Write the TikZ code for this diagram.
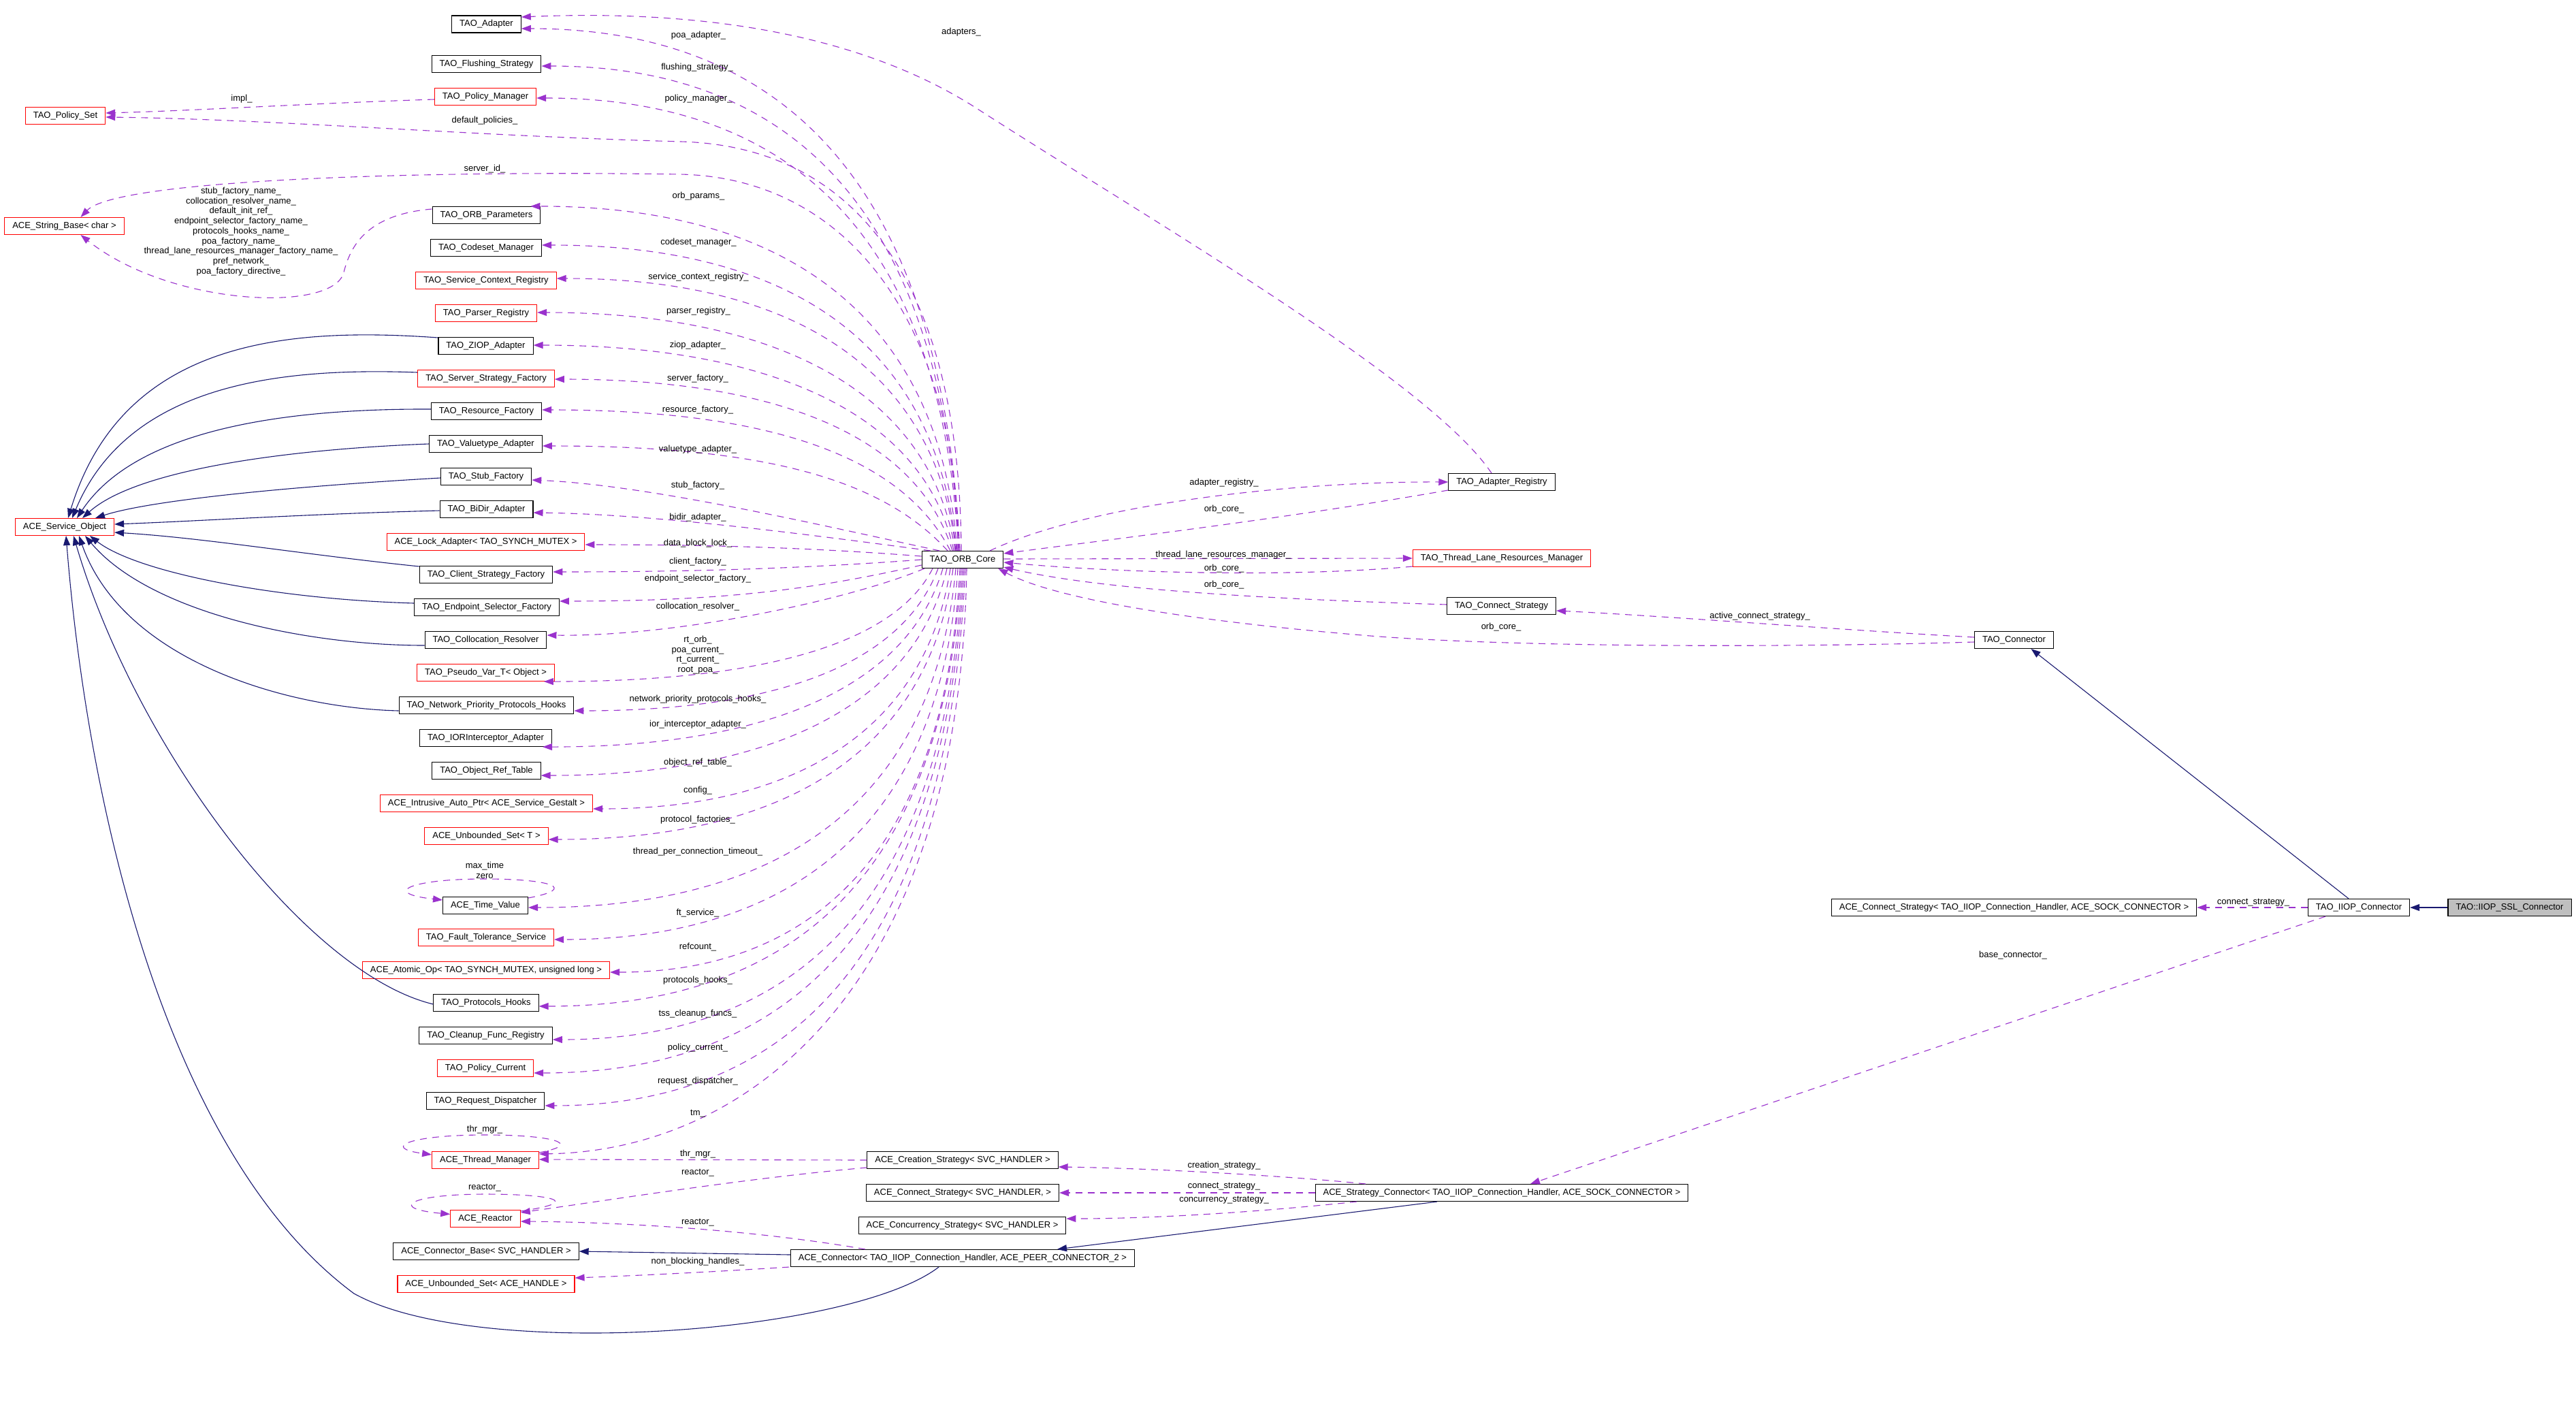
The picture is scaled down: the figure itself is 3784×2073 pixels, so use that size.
\documentclass[tikz,border=0pt]{standalone}
\usepackage{fontspec}
\setmainfont{Liberation Sans}
\usetikzlibrary{arrows.meta,calc}
\definecolor{pur}{HTML}{9A32CD}
\definecolor{nav}{HTML}{191970}
\definecolor{gry}{HTML}{BFBFBF}
\tikzset{
 cls/.style={draw=black, fill=white, line width=1.1pt, minimum height=25pt, inner xsep=11.5pt, inner ysep=0pt, font=\fontsize{13pt}{14.7pt}\selectfont},
 inc/.style={cls, draw=red},
 lbl/.style={inner sep=0pt, align=center, font=\fontsize{13pt}{14.7pt}\selectfont},
 uses/.style={draw=pur, line width=1.1pt, dash pattern=on 10pt off 8pt, -{Triangle[length=14pt,width=10pt]}},
 isa/.style={draw=nav, line width=1.1pt, -{Triangle[length=14pt,width=10pt]}},
}
% #1 source, #2 target, #3 fraction of dx for first control, #4 fraction of dx for second control
\newcommand{\oc}[4]{\draw[uses] let \p1=(#1), \p2=(#2) in (\p1) .. controls ({\x1+#3*(\x2-\x1)},{\y1+0.68*(\y2-\y1)}) and ({\x2+#4*(\x1-\x2)},\y2) .. (\p2);}
\begin{document}
\begin{tikzpicture}[x=1pt,y=-1pt]
\useasboundingbox (0,0) rectangle (3784,2073);
\fill[white] (0,0) rectangle (3784,2073);
% left column
\node[cls] (adapter) at (714.5,35.5) {TAO\_Adapter};
\node[cls] (flush) at (714.5,94) {TAO\_Flushing\_Strategy};
\node[inc] (polmgr) at (713,142) {TAO\_Policy\_Manager};
\node[inc] (polset) at (96,170) {TAO\_Policy\_Set};
\node[inc] (strbase) at (94.5,332) {ACE\_String\_Base< char >};
\node[cls] (orbparams) at (714.5,316) {TAO\_ORB\_Parameters};
\node[cls] (codeset) at (714,364) {TAO\_Codeset\_Manager};
\node[inc] (svcctx) at (714,412) {TAO\_Service\_Context\_Registry};
\node[inc] (parser) at (714,460) {TAO\_Parser\_Registry};
\node[cls] (ziop) at (713.5,508) {TAO\_ZIOP\_Adapter};
\node[inc] (srvstrat) at (714,556) {TAO\_Server\_Strategy\_Factory};
\node[cls] (resfac) at (714.5,604) {TAO\_Resource\_Factory};
\node[cls] (valtype) at (713.5,652) {TAO\_Valuetype\_Adapter};
\node[cls] (stubfac) at (714,700) {TAO\_Stub\_Factory};
\node[cls] (bidir) at (714.5,748) {TAO\_BiDir\_Adapter};
\node[inc] (svcobj) at (95,774) {ACE\_Service\_Object};
\node[inc] (lockad) at (713.5,796) {ACE\_Lock\_Adapter< TAO\_SYNCH\_MUTEX >};
\node[cls] (cltstrat) at (714,844) {TAO\_Client\_Strategy\_Factory};
\node[cls] (endpt) at (715,892) {TAO\_Endpoint\_Selector\_Factory};
\node[cls] (colloc) at (713.5,940) {TAO\_Collocation\_Resolver};
\node[inc] (pseudo) at (713.5,988) {TAO\_Pseudo\_Var\_T< Object >};
\node[cls] (netprio) at (714.5,1036) {TAO\_Network\_Priority\_Protocols\_Hooks};
\node[cls] (ior) at (713.5,1084) {TAO\_IORInterceptor\_Adapter};
\node[cls] (objref) at (714.5,1132) {TAO\_Object\_Ref\_Table};
\node[inc] (intrus) at (714.5,1180) {ACE\_Intrusive\_Auto\_Ptr< ACE\_Service\_Gestalt >};
\node[inc] (unbT) at (714.5,1228) {ACE\_Unbounded\_Set< T >};
\node[cls] (timeval) at (713,1330) {ACE\_Time\_Value};
\node[inc] (fault) at (714,1377) {TAO\_Fault\_Tolerance\_Service};
\node[inc] (atomic) at (714,1425) {ACE\_Atomic\_Op< TAO\_SYNCH\_MUTEX, unsigned long >};
\node[cls] (prothk) at (714,1473) {TAO\_Protocols\_Hooks};
\node[cls] (cleanup) at (713.5,1521) {TAO\_Cleanup\_Func\_Registry};
\node[inc] (polcur) at (713,1569) {TAO\_Policy\_Current};
\node[cls] (reqdisp) at (713,1617) {TAO\_Request\_Dispatcher};
\node[inc] (thrmgr) at (713,1704) {ACE\_Thread\_Manager};
\node[inc] (reactor) at (713,1790) {ACE\_Reactor};
\node[cls] (connbase) at (714,1838) {ACE\_Connector\_Base< SVC\_HANDLER >};
\node[inc] (unbhdl) at (714,1886) {ACE\_Unbounded\_Set< ACE\_HANDLE >};
% middle and right
\node[cls] (orb) at (1414,822) {TAO\_ORB\_Core};
\node[cls] (adreg) at (2206,708) {TAO\_Adapter\_Registry};
\node[inc] (tlrm) at (2206,820) {TAO\_Thread\_Lane\_Resources\_Manager};
\node[cls] (cstrat) at (2205.5,890) {TAO\_Connect\_Strategy};
\node[cls] (tconn) at (2958.5,940) {TAO\_Connector};
\node[cls] (acestratiiop) at (2958.5,1333) {ACE\_Connect\_Strategy< TAO\_IIOP\_Connection\_Handler, ACE\_SOCK\_CONNECTOR >};
\node[cls] (iiop) at (3465,1333) {TAO\_IIOP\_Connector};
\node[cls, fill=gry] (ssl) at (3686.5,1333) {TAO::IIOP\_SSL\_Connector};
\node[cls] (stratconn) at (2206,1752) {ACE\_Strategy\_Connector< TAO\_IIOP\_Connection\_Handler, ACE\_SOCK\_CONNECTOR >};
\node[cls] (creat) at (1414,1704) {ACE\_Creation\_Strategy< SVC\_HANDLER >};
\node[cls] (connstrat) at (1414,1752) {ACE\_Connect\_Strategy< SVC\_HANDLER, >};
\node[cls] (concur) at (1413.5,1800) {ACE\_Concurrency\_Strategy< SVC\_HANDLER >};
\node[cls] (aceconn) at (1414,1848) {ACE\_Connector< TAO\_IIOP\_Connection\_Handler, ACE\_PEER\_CONNECTOR\_2 >};

% inheritance to ACE_Service_Object
\draw[isa] ([yshift=12pt]ziop.west) .. controls (420,480) and (180,500) .. ([xshift=5pt]svcobj.north);
\draw[isa] ([yshift=9pt]srvstrat.west) .. controls (420,540) and (190,560) .. ([xshift=11pt]svcobj.north);
\draw[isa] ([yshift=3pt]resfac.west) .. controls (420,600) and (200,630) .. ([xshift=18pt]svcobj.north);
\draw[isa] (valtype.west) .. controls (420,660) and (200,690) .. ([xshift=26pt]svcobj.north);
\draw[isa] ([yshift=-2pt]stubfac.west) .. controls (420,715) and (220,735) .. ([xshift=45pt]svcobj.north);
\draw[isa] ([yshift=-2pt]bidir.west) .. controls (450,755) and (300,765) .. ([yshift=4pt]svcobj.east);
\draw[isa] ([yshift=12pt]cltstrat.west) .. controls (450,815) and (300,790) .. ([yshift=-8pt]svcobj.east);
\draw[isa] ([yshift=6pt]endpt.west) .. controls (400,880) and (200,840) .. ([xshift=37pt]svcobj.south);
\draw[isa] ([yshift=-8pt]colloc.west) .. controls (450,948) and (220,900) .. ([xshift=30pt]svcobj.south);
\draw[isa] ([yshift=-8pt]netprio.west) .. controls (420,1040) and (180,970) .. ([xshift=21pt]svcobj.south);
\draw[isa] ([yshift=-2pt]prothk.west) .. controls (450,1430) and (200,1100) .. ([xshift=13pt]svcobj.south);
\draw[isa] ([xshift=-35pt]aceconn.south) .. controls (1250,1960) and (700,2000) .. (520,1900) .. controls (250,1700) and (130,1200) .. ([xshift=2pt]svcobj.south);
% other inheritance
\draw[isa] ([yshift=5pt]aceconn.west) -- (connbase.east);
\draw[isa] ([xshift=-95pt]stratconn.south) -- ([xshift=139pt]aceconn.north);
\draw[isa] (ssl.west) -- (iiop.east);
\draw[isa] ([xshift=-15pt]iiop.north) -- ([xshift=25pt]tconn.south);

% ORB core to upper left column
\oc{[xshift=-4pt]orb.north}{[yshift=-6.5pt]adapter.east}{0.04}{0.62}
\oc{[xshift=-5pt]orb.north}{[yshift=-3pt]flush.east}{0.04}{0.62}
\oc{[xshift=-6pt]orb.north}{[yshift=-2pt]polmgr.east}{0.04}{0.62}
\oc{[xshift=-8pt]orb.north}{[xshift=-15pt]orbparams.north east}{0.04}{0.6}
\oc{[xshift=-9pt]orb.north}{[yshift=4pt]codeset.east}{0.05}{0.6}
\oc{[xshift=-10pt]orb.north}{[yshift=3pt]svcctx.east}{0.05}{0.58}
\oc{[xshift=-11pt]orb.north}{[yshift=1pt]parser.east}{0.06}{0.56}
\oc{[xshift=-13pt]orb.north}{[yshift=1pt]ziop.east}{0.07}{0.55}
\oc{[xshift=-15pt]orb.north}{[yshift=-1pt]srvstrat.east}{0.09}{0.55}
\oc{[xshift=-18pt]orb.north}{[yshift=2pt]resfac.east}{0.12}{0.55}
\oc{[xshift=-22pt]orb.north}{[yshift=-3pt]valtype.east}{0.16}{0.55}
\draw[uses] ([xshift=-34pt]orb.north) .. controls (1200,770) and (950,712) .. ([yshift=-5pt]stubfac.east);
\draw[uses] ([xshift=-47pt]orb.north) .. controls (1150,780) and (950,755) .. ([yshift=-5pt]bidir.east);
\draw[uses] ([xshift=-2pt]orb.north) .. controls (1410,420) and (1260,215) .. (1000,208) .. controls (700,200) and (400,175) .. ([yshift=-2pt]polset.east);
\draw[uses] ([xshift=-7pt]orb.north) .. controls (1405,480) and (1250,262) .. (1000,256) .. controls (600,250) and (170,265) .. ([xshift=24pt]strbase.north);
% ORB core to middle left column
\oc{[yshift=5pt]orb.west}{[yshift=-4pt]lockad.east}{0.3}{0.4}
\oc{orb.west}{[yshift=4pt]cltstrat.east}{0.3}{0.4}
\oc{[yshift=-8pt]orb.west}{[yshift=9pt]endpt.east}{0.3}{0.45}
% ORB core to lower left column
\draw[uses] ([xshift=-56pt]orb.south) .. controls (1250,880) and (1000,935) .. ([yshift=7pt]colloc.east);
\oc{[xshift=-44pt]orb.south}{[xshift=-16pt]pseudo.south east}{0.1}{0.55}
\oc{[xshift=-36pt]orb.south}{[yshift=-8pt]netprio.east}{0.1}{0.55}
\oc{[xshift=-29pt]orb.south}{[xshift=-14pt]ior.south east}{0.09}{0.55}
\oc{[xshift=-23pt]orb.south}{[yshift=-7pt]objref.east}{0.08}{0.55}
\oc{[xshift=-18pt]orb.south}{[yshift=-8pt]intrus.east}{0.07}{0.56}
\oc{[xshift=-14pt]orb.south}{[yshift=-5pt]unbT.east}{0.06}{0.58}
\oc{[xshift=-10pt]orb.south}{[yshift=-3pt]timeval.east}{0.05}{0.6}
\oc{[xshift=-7pt]orb.south}{[yshift=-3pt]fault.east}{0.04}{0.6}
\oc{[xshift=-4pt]orb.south}{[yshift=-3pt]atomic.east}{0.04}{0.6}
\oc{[xshift=-2pt]orb.south}{[yshift=-5pt]prothk.east}{0.04}{0.62}
\oc{orb.south}{[yshift=-6pt]cleanup.east}{0.04}{0.62}
\oc{[xshift=2pt]orb.south}{[yshift=-7pt]polcur.east}{0.04}{0.62}
\oc{[xshift=4pt]orb.south}{[yshift=-7pt]reqdisp.east}{0.04}{0.62}
\draw[uses] ([xshift=6pt]orb.south) .. controls (1410,1450) and (1100,1690) .. ([yshift=9pt]thrmgr.east);

% other usage edges, left part
\draw[uses] ([xshift=-15pt]adreg.north) .. controls (2100,560) and (1700,330) .. (1436,160) .. controls (1250,40) and (1000,15) .. ([yshift=10.5pt]adapter.east);
\draw[uses] ([yshift=-4pt]polmgr.west) .. controls (450,152) and (300,162) .. ([yshift=4pt]polset.east);
\draw[uses] ([yshift=9pt]orbparams.west) .. controls (540,315) and (515,360) .. (505,400) .. controls (490,460) and (250,450) .. ([xshift=24pt]strbase.south);
\draw[uses] ([yshift=-2pt]timeval.north east) .. controls (850,1305) and (810,1291) .. (712,1291) .. controls (600,1291) and (560,1312) .. ([yshift=-5pt]timeval.north west);
\draw[uses] ([yshift=-2pt]thrmgr.north east) .. controls (860,1680) and (810,1667) .. (713,1667) .. controls (600,1667) and (560,1686) .. ([yshift=-5pt]thrmgr.north west);
\draw[uses] ([yshift=-2pt]reactor.north east) .. controls (860,1765) and (810,1754) .. (713,1754) .. controls (600,1754) and (570,1775) .. ([yshift=-6.5pt]reactor.north west);
\draw[uses] (creat.west) -- ([yshift=1pt]thrmgr.east);
\draw[uses] ([yshift=-11pt]creat.west) .. controls (1100,1730) and (900,1762) .. ([yshift=9pt]reactor.east);
\draw[uses] ([xshift=-143pt]aceconn.north) .. controls (1100,1805) and (900,1795) .. ([yshift=-4pt]reactor.east);
\draw[uses] ([xshift=-255pt]aceconn.south) .. controls (1050,1868) and (950,1873) .. ([yshift=9pt]unbhdl.east);
\draw[uses] ([xshift=-200pt]stratconn.north) .. controls (1900,1728) and (1700,1716) .. ([yshift=-10pt]creat.east);
\draw[uses] (stratconn.west) -- (connstrat.east);
\draw[uses] ([xshift=-213pt]stratconn.south) .. controls (1850,1780) and (1700,1790) .. ([yshift=10pt]concur.east);
% right part
\draw[uses] ([xshift=-49pt]iiop.south) -- ([xshift=42pt]stratconn.north);
\draw[uses] (iiop.west) -- (acestratiiop.east);
\draw[uses] ([yshift=4pt]tconn.west) .. controls (2700,925) and (2450,905) .. ([yshift=-7pt]cstrat.east);
\draw[uses] ([yshift=-3pt]tconn.west) .. controls (2600,952) and (2200,950) .. (2001,933) .. controls (1750,912) and (1550,880) .. ([xshift=-8pt]orb.south east);
\draw[uses] ([yshift=2pt]cstrat.west) .. controls (1800,878) and (1600,862) .. ([yshift=2pt]orb.south east);
\draw[uses] ([yshift=-12pt]tlrm.west) .. controls (1900,848) and (1650,842) .. ([yshift=-4pt]orb.east);
\draw[uses] ([yshift=1pt]orb.east) -- (tlrm.west);
\draw[uses] ([yshift=-12pt]adreg.west) .. controls (1900,760) and (1650,790) .. ([yshift=9pt]orb.east);
\draw[uses] ([xshift=40pt]orb.north) .. controls (1600,740) and (1900,707) .. (adreg.west);

% labels
\node[lbl] (l01) at (1026,52) {poa\_adapter\_};
\node[lbl] (l02) at (1412,47) {adapters\_};
\node[lbl] (l03) at (1024,99) {flushing\_strategy\_};
\node[lbl] (l04) at (1026,145) {policy\_manager\_};
\node[lbl] (l05) at (355,145) {impl\_};
\node[lbl] (l06) at (712,177) {default\_policies\_};
\node[lbl] (l07) at (712,248) {server\_id\_};
\node[lbl] (l08) at (354,340) {stub\_factory\_name\_\\collocation\_resolver\_name\_\\default\_init\_ref\_\\endpoint\_selector\_factory\_name\_\\protocols\_hooks\_name\_\\poa\_factory\_name\_\\thread\_lane\_resources\_manager\_factory\_name\_\\pref\_network\_\\poa\_factory\_directive\_};
\node[lbl] (l09) at (1026,288) {orb\_params\_};
\node[lbl] (l10) at (1026,356) {codeset\_manager\_};
\node[lbl] (l11) at (1026,407) {service\_context\_registry\_};
\node[lbl] (l12) at (1026,457) {parser\_registry\_};
\node[lbl] (l13) at (1025,507) {ziop\_adapter\_};
\node[lbl] (l14) at (1025,556) {server\_factory\_};
\node[lbl] (l15) at (1025,602) {resource\_factory\_};
\node[lbl] (l16) at (1025,660) {valuetype\_adapter\_};
\node[lbl] (l17) at (1025,713) {stub\_factory\_};
\node[lbl] (l18) at (1025,760) {bidir\_adapter\_};
\node[lbl] (l19) at (1025,798) {data\_block\_lock\_};
\node[lbl] (l20) at (1025,825) {client\_factory\_};
\node[lbl] (l21) at (1025,850) {endpoint\_selector\_factory\_};
\node[lbl] (l22) at (1025,891) {collocation\_resolver\_};
\node[lbl] (l23) at (1025,962) {rt\_orb\_\\poa\_current\_\\rt\_current\_\\root\_poa\_};
\node[lbl] (l24) at (1025,1027) {network\_priority\_protocols\_hooks\_};
\node[lbl] (l25) at (1025,1064) {ior\_interceptor\_adapter\_};
\node[lbl] (l26) at (1025,1120) {object\_ref\_table\_};
\node[lbl] (l27) at (1025,1161) {config\_};
\node[lbl] (l28) at (1025,1204) {protocol\_factories\_};
\node[lbl] (l29) at (1025,1251) {thread\_per\_connection\_timeout\_};
\node[lbl] (l30) at (712,1278) {max\_time\\zero};
\node[lbl] (l31) at (1025,1341) {ft\_service\_};
\node[lbl] (l32) at (1025,1391) {refcount\_};
\node[lbl] (l33) at (1025,1440) {protocols\_hooks\_};
\node[lbl] (l34) at (1025,1489) {tss\_cleanup\_funcs\_};
\node[lbl] (l35) at (1025,1539) {policy\_current\_};
\node[lbl] (l36) at (1025,1588) {request\_dispatcher\_};
\node[lbl] (l37) at (1025,1636) {tm\_};
\node[lbl] (l38) at (712,1659) {thr\_mgr\_};
\node[lbl] (l39) at (1025,1695) {thr\_mgr\_};
\node[lbl] (l40) at (1025,1723) {reactor\_};
\node[lbl] (l41) at (712,1745) {reactor\_};
\node[lbl] (l42) at (1025,1796) {reactor\_};
\node[lbl] (l43) at (1025,1853) {non\_blocking\_handles\_};
\node[lbl] (l44) at (1798,1712) {creation\_strategy\_};
\node[lbl] (l45) at (1798,1743) {connect\_strategy\_};
\node[lbl] (l46) at (1798,1763) {concurrency\_strategy\_};
\node[lbl] (l47) at (1798,709) {adapter\_registry\_};
\node[lbl] (l48) at (1798,748) {orb\_core\_};
\node[lbl] (l49) at (1797,815) {thread\_lane\_resources\_manager\_};
\node[lbl] (l50) at (1798,835) {orb\_core\_};
\node[lbl] (l51) at (1798,859) {orb\_core\_};
\node[lbl] (l52) at (2205,921) {orb\_core\_};
\node[lbl] (l53) at (2585,905) {active\_connect\_strategy\_};
\node[lbl] (l54) at (3310,1326) {connect\_strategy\_};
\node[lbl] (l55) at (2957,1403) {base\_connector\_};
\end{tikzpicture}
\end{document}
